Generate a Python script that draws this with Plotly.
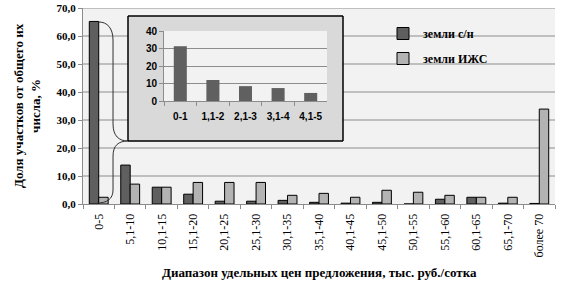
import plotly.graph_objects as go

categories = ["0-5", "5,1-10", "10,1-15", "15,1-20", "20,1-25", "25,1-30", "30,1-35",
              "35,1-40", "40,1-45", "45,1-50", "50,1-55", "55,1-60", "60,1-65",
              "65,1-70", "более 70"]
sn_values = [65.2, 13.9, 6.0, 3.5, 1.0, 1.0, 1.3, 0.6, 0.3, 0.6, 0.0, 1.7, 2.4, 0.3, 0.2]
izs_values = [2.4, 7.1, 6.0, 7.7, 7.7, 7.7, 3.1, 3.8, 2.4, 4.9, 4.2, 3.1, 2.4, 2.4, 33.9]

inset_categories = ["0-1", "1,1-2", "2,1-3", "3,1-4", "4,1-5"]
inset_values = [31.3, 12.0, 8.5, 7.4, 4.6]

y_ticks = [0, 10, 20, 30, 40, 50, 60, 70]
inset_ticks = [0, 10, 20, 30, 40]

W, H = 571, 282
L, R, T, B = 83, 16, 8, 78
PW, PH = W - L - R, H - T - B

def px(x):
    return (x - L) / PW

def py(y):
    return (H - B - y) / PH

serif = "Liberation Serif"
sans = "Liberation Sans"
grid_col = "#8c8c8c"

fig = go.Figure()
fig.add_trace(go.Bar(x=categories, y=sn_values, name="земли с/н",
                     marker=dict(color="#5f5f5f", line=dict(color="black", width=1)),
                     legendgroup="a", xaxis="x", yaxis="y"))
fig.add_trace(go.Bar(x=categories, y=izs_values, name="земли ИЖС",
                     marker=dict(color="#b3b3b3", line=dict(color="black", width=1)),
                     legendgroup="b", xaxis="x", yaxis="y"))
fig.add_trace(go.Bar(x=inset_categories, y=inset_values, name="inset", showlegend=False,
                     marker=dict(color="#606060", line=dict(width=0)), width=0.4,
                     xaxis="x2", yaxis="y2"))

shapes = []
# main gridlines (drawn as shapes so the inset frame can cover them)
for v in y_ticks[1:]:
    shapes.append(dict(type="line", xref="paper", yref="y", x0=0, x1=1, y0=v, y1=v,
                       line=dict(color=grid_col, width=1), layer="below"))
# inset frame
bx0, bx1, by0, by1 = px(128), px(343), py(141), py(16)
ix0, ix1, iy0, iy1 = px(164), px(327), py(101), py(31)
shapes.append(dict(type="rect", xref="paper", yref="paper", x0=bx0, x1=bx1, y0=by0, y1=by1,
                   fillcolor="#d9d9d9", line=dict(color="black", width=1), layer="below"))
shapes.append(dict(type="rect", xref="paper", yref="paper", x0=ix0, x1=ix1, y0=iy0, y1=iy1,
                   fillcolor="#f2f2f2", line=dict(width=0), layer="below"))
shapes.append(dict(type="rect", xref="paper", yref="paper", x0=bx0, x1=bx1, y0=by0, y1=by1,
                   fillcolor="rgba(0,0,0,0)", line=dict(color="black", width=1), layer="above"))

# curly brace
def P(x, y):
    return f"{px(x):.4f},{py(y):.4f}"

brace = ("M " + P(99, 22) + " C " + P(107, 22) + " " + P(113, 28) + " " + P(113, 40)
         + " L " + P(113, 124) + " C " + P(113, 136) + " " + P(119, 141) + " " + P(128, 141)
         + " C " + P(119, 141) + " " + P(113, 145) + " " + P(113, 156)
         + " L " + P(113, 190) + " C " + P(113, 199) + " " + P(107, 203) + " " + P(97, 203))
shapes.append(dict(type="path", xref="paper", yref="paper", path=brace,
                   line=dict(color="#303030", width=1), layer="above"))

annotations = [
    dict(text="Доля участков от общего их<br>числа, %", textangle=-90,
         xref="paper", yref="paper", x=px(27), y=py(106), xanchor="center", yanchor="middle",
         showarrow=False, font=dict(family=serif, size=13, color="black", weight="bold")),
    dict(text="Диапазон удельных цен предложения, тыс. руб./сотка",
         xref="paper", yref="paper", x=px(319), y=py(272), xanchor="center", yanchor="middle",
         showarrow=False, font=dict(family=serif, size=13, color="black", weight="bold")),
]

fig.update_layout(
    width=W, height=H,
    margin=dict(l=L, r=R, t=T, b=B, autoexpand=False),
    paper_bgcolor="white", plot_bgcolor="#f2f2f2",
    separators=", ",
    barmode="group", bargap=0.4, bargroupgap=0,
    shapes=shapes, annotations=annotations,
    showlegend=True,
    legend=dict(x=px(383), y=py(19), xanchor="left", yanchor="top",
                bgcolor="rgba(0,0,0,0)", traceorder="grouped", tracegroupgap=6,
                font=dict(family=serif, size=12, color="black", weight="bold"),
                itemwidth=30),
    xaxis=dict(domain=[0, 1], type="category", tickangle=-90, tickson="boundaries",
               ticks="outside", ticklen=4, tickcolor=grid_col, automargin=False,
               showline=True, linecolor=grid_col, showgrid=False, ticklabelstandoff=4,
               tickfont=dict(family=serif, size=12, color="black")),
    yaxis=dict(domain=[0, 1], range=[0, 70], tickvals=y_ticks, tickformat=".1f",
               ticks="outside", ticklen=4, tickcolor=grid_col, automargin=False,
               showline=True, linecolor=grid_col, showgrid=False, zeroline=False,
               tickfont=dict(family=serif, size=11, color="black", weight="bold")),
    xaxis2=dict(domain=[ix0, ix1], anchor="y2", type="category", tickson="boundaries",
                ticks="outside", ticklen=4, tickcolor=grid_col, automargin=False,
                showline=True, linecolor=grid_col, showgrid=False,
                ticklabelstandoff=6,
                tickfont=dict(family=sans, size=10, color="black", weight="bold")),
    yaxis2=dict(domain=[iy0, iy1], anchor="x2", range=[0, 40], tickvals=inset_ticks,
                ticks="outside", ticklen=4, tickcolor=grid_col, automargin=False,
                showline=True, linecolor=grid_col, showgrid=True, gridcolor=grid_col,
                zeroline=False,
                tickfont=dict(family=sans, size=10, color="black", weight="bold")),
)

fig.write_html("out.html")
